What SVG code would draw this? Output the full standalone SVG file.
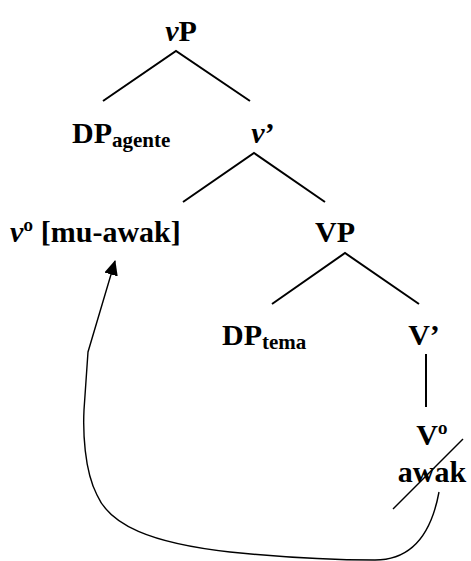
<svg xmlns="http://www.w3.org/2000/svg" width="471" height="561" viewBox="0 0 471 561">
<style>
  .t { font-weight: bold; fill: #000; }
  .lbl { font-size: 30px; }
  .sub { font-size: 21px; }
  .it { font-style: italic; }
  .branch { stroke: #000; stroke-width: 2; fill: none; }
  .move { stroke: #000; stroke-width: 1.4; fill: none; }
</style>
<defs>
  <marker id="arrow" markerWidth="16" markerHeight="16" refX="14" refY="7" orient="auto" markerUnits="userSpaceOnUse">
    <path d="M0,0 L15,7 L0,14 Z" fill="#000"/>
  </marker>
</defs>
<rect width="471" height="561" fill="#fff"/>
<g font-family="Liberation Serif, Times New Roman, serif">
<g id="vP"><text class="t lbl" x="181" y="41" text-anchor="middle"><tspan class="it">v</tspan>P</text></g>
<g id="DPagente"><text class="t lbl" x="72" y="143">DP<tspan class="sub" dy="4">agente</tspan></text></g>
<g id="vbar"><text class="t lbl" x="263" y="143" text-anchor="middle"><tspan class="it">v</tspan>’</text></g>
<g id="v0"><text class="t lbl" x="10" y="242"><tspan class="it">v</tspan>º [mu-awak]</text></g>
<g id="VP"><text class="t lbl" x="335" y="242" text-anchor="middle">VP</text></g>
<g id="DPtema"><text class="t lbl" x="222" y="345">DP<tspan class="sub" dy="4">tema</tspan></text></g>
<g id="Vbar"><text class="t lbl" x="424" y="345" text-anchor="middle">V’</text></g>
<g id="V0"><text class="t lbl" x="432" y="445" text-anchor="middle">Vº</text><text class="t lbl" x="432" y="482" text-anchor="middle">awak</text><line class="move" x1="393" y1="509" x2="463" y2="439"/></g>
</g>
<g id="connectors">
  <polyline class="branch" points="103,101 176,51 250,101"/>
  <polyline class="branch" points="183,202 254,153 325,202"/>
  <polyline class="branch" points="272,304 345,253 419,304"/>
  <line class="branch" x1="426" y1="354" x2="426" y2="407"/>
  <path class="move" d="M439,492 C432,530 415,560 375,560 C340,560 290,558 230,552 C150,543 110,525 97,495 C84,470 83,430 84,410 L88,352 L115,261" marker-end="url(#arrow)"/>
</g>
</svg>
